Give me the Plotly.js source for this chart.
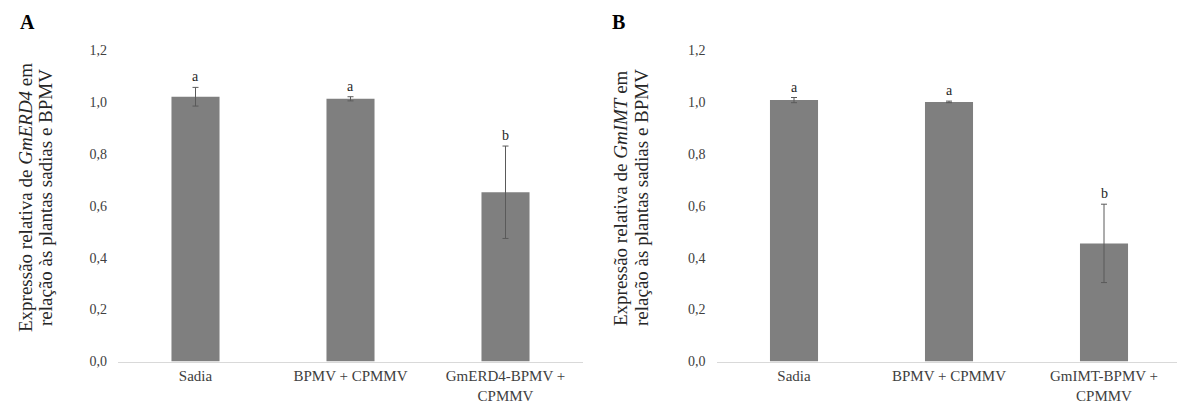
<!DOCTYPE html>
<html>
<head>
<meta charset="utf-8">
<script src="https://cdn.plot.ly/plotly-3.0.1.min.js"></script>
<style>html,body{margin:0;padding:0;background:#fff;}#chart{width:1177px;height:405px;}</style>
</head>
<body>
<div id="chart"></div>
<script>
const catsA = ['Sadia', 'BPMV + CPMMV', 'GmERD4-BPMV +<br>CPMMV'];
const valsA = [1.02, 1.012, 0.652];
const errA = [0.036, 0.008, 0.178];
const lettersA = ['a', 'a', 'b'];

const catsB = ['Sadia', 'BPMV + CPMMV', 'GmIMT-BPMV +<br>CPMMV'];
const valsB = [1.007, 1.0, 0.455];
const errB = [0.01, 0.003, 0.151];
const lettersB = ['a', 'a', 'b'];

const yTicks = [0, 0.2, 0.4, 0.6, 0.8, 1.0, 1.2];
const yTickText = ['0,0', '0,2', '0,4', '0,6', '0,8', '1,0', '1,2'];

const W = 1177, H = 405;
const FONT = '"Liberation Serif"';
const barColor = '#7f7f7f';
const errColor = '#5a5a5a';

function barTrace(cats, vals, errs, xa, ya) {
  return {
    type: 'bar', x: cats, y: vals, xaxis: xa, yaxis: ya,
    marker: {color: barColor, line: {width: 0}},
    error_y: {type: 'data', array: errs, visible: true, color: errColor, thickness: 1, width: 3},
    showlegend: false, hoverinfo: 'skip'
  };
}

const data = [
  barTrace(catsA, valsA, errA, 'x', 'y'),
  barTrace(catsB, valsB, errB, 'x2', 'y2')
];

const yBottom = (H - 361.5) / H, yTop = (H - 50) / H;

function yaxis(anchor) {
  return {
    domain: [yBottom, yTop], range: [0, 1.2], anchor: anchor,
    tickmode: 'array', tickvals: yTicks, ticktext: yTickText,
    showgrid: false, zeroline: false, showline: false, ticks: '',
    ticklabelstandoff: 10,
    tickfont: {family: FONT, size: 14, color: '#404040'}
  };
}
function xaxis(anchor, d0, d1, r1) {
  return {
    domain: [d0 / W, d1 / W], range: [-0.5, r1], anchor: anchor,
    showgrid: false, zeroline: false, showline: true, linecolor: '#d9d9d9', linewidth: 1.5,
    ticks: '', tickfont: {family: FONT, size: 15, color: '#404040'}, tickangle: 0
  };
}

const annotations = [];
function addLetters(cats, vals, errs, letters, xa, ya) {
  for (let i = 0; i < cats.length; i++) {
    annotations.push({
      x: cats[i], y: vals[i] + errs[i], xref: xa, yref: ya,
      text: letters[i], showarrow: false, yanchor: 'bottom', yshift: 1,
      font: {family: FONT, size: 14, color: '#262626'}
    });
  }
}
addLetters(catsA, valsA, errA, lettersA, 'x', 'y');
addLetters(catsB, valsB, errB, lettersB, 'x2', 'y2');

function addYTitle(line1, line2, x1, x2) {
  const yc = (H - 198) / H;
  [[line1, x1], [line2, x2]].forEach(([t, x]) => {
    annotations.push({
      x: x / W, y: yc, xref: 'paper', yref: 'paper', text: t, showarrow: false,
      textangle: -90, xanchor: 'center', yanchor: 'middle',
      font: {family: FONT, size: 19, color: '#262626'}
    });
  });
}
addYTitle('Expressão relativa de <i>GmERD4</i> em', 'relação às plantas sadias e BPMV', 25, 45);
addYTitle('Expressão relativa de <i>GmIMT</i> em', 'relação às plantas sadias e BPMV', 620, 641);

annotations.push({x: 27 / W, y: (H - 22) / H, xref: 'paper', yref: 'paper', text: '<b>A</b>',
  showarrow: false, xanchor: 'center', yanchor: 'middle', font: {family: FONT, size: 20, color: '#000'}});
annotations.push({x: 618 / W, y: (H - 22) / H, xref: 'paper', yref: 'paper', text: '<b>B</b>',
  showarrow: false, xanchor: 'center', yanchor: 'middle', font: {family: FONT, size: 20, color: '#000'}});

const layout = {
  width: W, height: H,
  margin: {l: 0, r: 0, t: 0, b: 0},
  paper_bgcolor: '#fff', plot_bgcolor: '#fff',
  bargap: 0.69,
  xaxis: xaxis('y', 118, 583, 2.5),
  yaxis: yaxis('x'),
  xaxis2: xaxis('y2', 716.5, 1177, -0.5 + (1177 - 716.5) / 155),
  yaxis2: yaxis('x2'),
  annotations: annotations,
  font: {family: FONT}
};

Plotly.newPlot('chart', data, layout, {displayModeBar: false, staticPlot: true});
</script>
</body>
</html>
